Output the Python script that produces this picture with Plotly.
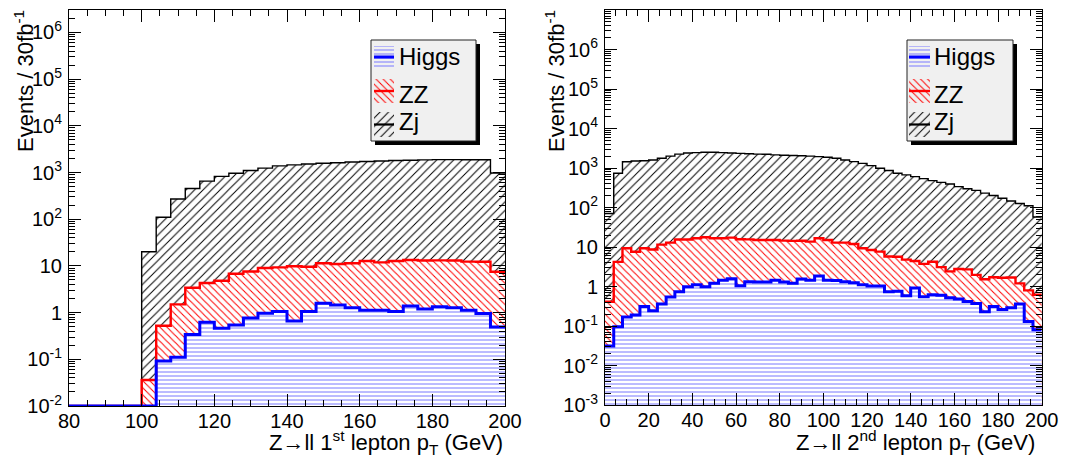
import numpy as np
import plotly.graph_objects as go

# ---------------- Z->ll 1st lepton pT, 4 GeV bins, 80-200 GeV ----------------
pt1_edges = np.arange(80, 201, 4)
pt1_higgs = [0, 0, 0, 0, 0, 0, 0.092, 0.11, 0.34, 0.62, 0.46, 0.54, 0.77, 0.97, 1.06,
             0.66, 1.05, 1.58, 1.45, 1.27, 1.13, 1.13, 1.05, 1.38, 1.2, 1.34, 1.27, 1.13,
             0.96, 0.49]
pt1_zz = [0, 0, 0, 0, 0, 0.036, 0.43, 1.39, 3.06, 3.68, 4.34, 6.26, 6.83, 8.03, 8.24,
          9.14, 8.55, 9.82, 9.55, 10.1, 11.6, 10.8, 11.7, 12.0, 11.9, 11.8, 11.8, 11.2,
          11.3, 7.0]
pt1_zj = [0, 0, 0, 0, 0, 20, 110, 270, 450, 650, 820, 960, 1100, 1230, 1380, 1450, 1510,
          1570, 1610, 1670, 1710, 1750, 1790, 1820, 1850, 1870, 1870, 1860, 1870, 970]

# ---------------- Z->ll 2nd lepton pT, 4 GeV bins, 0-200 GeV ----------------
pt2_edges = np.arange(0, 201, 4)
pt2_higgs = [0.031, 0.096, 0.17, 0.19, 0.31, 0.245, 0.36, 0.54, 0.74, 0.98, 1.1, 0.98,
             1.2, 1.45, 1.58, 1.05, 1.32, 1.3, 1.3, 1.45, 1.3, 1.2, 1.55, 1.45, 1.85, 1.45,
             1.42, 1.32, 1.25, 1.1, 1.03, 1.03, 0.74, 0.76, 0.58, 0.92, 0.55, 0.62, 0.6,
             0.52, 0.48, 0.42, 0.37, 0.23, 0.31, 0.26, 0.29, 0.36, 0.13, 0.08]
pt2_zz = [0.38, 4.1, 9.1, 7.4, 9.0, 8.4, 11.1, 12.4, 14.8, 14.5, 15.5, 16.6, 15.4, 15.2,
          15.7, 14.6, 14.3, 13.7, 13.7, 13.6, 13.2, 13.1, 12.8, 12.2, 14.8, 13.6, 11.5,
          11.6, 10.7, 8.2, 7.4, 6.6, 5.0, 4.9, 4.2, 3.5, 3.2, 3.6, 2.5, 1.9, 2.3, 2.3,
          1.6, 1.3, 1.4, 1.4, 1.4, 0.84, 0.67, 0.54]
pt2_zj = [70, 730, 1435, 1490, 1520, 1580, 1750, 1990, 2235, 2385, 2435, 2480, 2485, 2435,
          2385, 2335, 2285, 2235, 2205, 2135, 2085, 2055, 2035, 1985, 1925, 1855, 1745,
          1575, 1435, 1300, 1140, 975, 855, 730, 665, 600, 535, 475, 430, 390, 335, 295,
          270, 230, 200, 170, 145, 125, 110, 57]

LEGEND_LABELS = ["Higgs", "ZZ", "Zj"]
PT1_TITLE = "Z\u2192ll 1<sup>st</sup> lepton p<sub>T</sub> (GeV)"
PT2_TITLE = "Z\u2192ll 2<sup>nd</sup> lepton p<sub>T</sub> (GeV)"
Y_TITLE = "Events / 30fb<sup>-1</sup>"

FONT = "Liberation Sans, Arial, Helvetica, sans-serif"
W, H = 1070, 466

# per-process style: (line colour, line width, hatch shape, hatch size, hatch colour)
STYLES = {
    "Higgs": ("#0000ff", 3.0, "-", 4, "#7878ff"),
    "ZZ": ("#ff0000", 2.4, "\\", 5, "#ff0000"),
    "Zj": ("#000000", 1.4, "/", 6, "#000000"),
}


def pow10_text(e):
    if e == 0:
        return "1"
    if e == 1:
        return "10"
    return "10<sup>%d</sup>" % e


def log_minor(lo, hi):
    return [m * 10.0 ** e for e in range(lo, hi + 1) for m in range(2, 10)]


fig = go.Figure()


def add_stack(edges, higgs, zz, zj, xa, ya, floor):
    h = np.array(higgs, float)
    s_hz = h + np.array(zz, float)
    s_all = s_hz + np.array(zj, float)
    centers = (edges[:-1] + edges[1:]) / 2.0
    width = float(edges[1] - edges[0])
    # stacked histograms, drawn from the total down so each covers the ones beneath
    for name, vals in (("Zj", s_all), ("ZZ", s_hz), ("Higgs", h)):
        lc, lw, shp, sz, hc = STYLES[name]
        yb = [v if v > 0 else None for v in vals]
        fig.add_trace(go.Bar(
            x=centers, y=yb, width=width, xaxis=xa, yaxis=ya,
            marker=dict(color="white", line=dict(width=0),
                        pattern=dict(shape=shp, size=sz, solidity=1.0 / sz,
                                     fgcolor=hc, bgcolor="white", fillmode="replace")),
            hoverinfo="skip", showlegend=False))
    for name, vals in (("Zj", s_all), ("ZZ", s_hz), ("Higgs", h)):
        lc, lw, shp, sz, hc = STYLES[name]
        yl = np.where(vals > 0, vals, floor)
        fig.add_trace(go.Scatter(
            x=edges, y=list(yl) + [yl[-1]], mode="lines", line_shape="hv",
            line=dict(color=lc, width=lw), xaxis=xa, yaxis=ya,
            hoverinfo="skip", showlegend=False))


Y1_RANGE = (-2, 6.48)
Y2_RANGE = (-3, 7)
add_stack(pt1_edges, pt1_higgs, pt1_zz, pt1_zj, "x", "y", 10.0 ** Y1_RANGE[0])
add_stack(pt2_edges, pt2_higgs, pt2_zz, pt2_zj, "x2", "y2", 10.0 ** Y2_RANGE[0])

tickfont = dict(family=FONT, size=20, color="black")
common_x = dict(showgrid=False, zeroline=False, showline=True, linecolor="black",
                linewidth=1, mirror="allticks", ticks="inside", ticklen=12,
                tickwidth=1, tickcolor="black", tickfont=tickfont, dtick=20,
                ticklabelstandoff=-3, automargin=False,
                minor=dict(dtick=5, ticks="inside", ticklen=6, tickcolor="black",
                           showgrid=False))
common_y = dict(type="log", showgrid=False, zeroline=False, showline=True,
                linecolor="black", linewidth=1, mirror="allticks", ticks="inside",
                ticklen=12, tickwidth=1, tickcolor="black", tickfont=tickfont,
                tickmode="array", ticklabelstandoff=2, automargin=False)

e1 = list(range(-2, 7))
e2 = list(range(-3, 8))
fig.update_layout(
    width=W, height=H, margin=dict(l=0, r=0, t=0, b=0, autoexpand=False),
    paper_bgcolor="white", plot_bgcolor="rgba(0,0,0,0)",
    barmode="overlay", bargap=0, showlegend=False,
    xaxis=dict(common_x, domain=[69 / W, 505 / W], range=[80, 200], tick0=80, anchor="y"),
    yaxis=dict(common_y, domain=[(H - 406) / H, (H - 10) / H], range=list(Y1_RANGE),
               tickvals=[10.0 ** e for e in e1], ticktext=[pow10_text(e) for e in e1],
               minor=dict(tickmode="array", tickvals=log_minor(-2, 6), ticks="inside",
                          ticklen=6, tickcolor="black", showgrid=False),
               anchor="x"),
    xaxis2=dict(common_x, domain=[605 / W, 1041.7 / W], range=[0, 200], tick0=0, anchor="y2"),
    yaxis2=dict(common_y, domain=[(H - 405) / H, (H - 10) / H], range=list(Y2_RANGE),
                tickvals=[10.0 ** e for e in e2], ticktext=[pow10_text(e) for e in e2],
                minor=dict(tickmode="array", tickvals=log_minor(-3, 6), ticks="inside",
                           ticklen=6, tickcolor="black", showgrid=False),
                anchor="x2"),
    # overlay in pixel units for legends and axis titles
    xaxis3=dict(domain=[0, 1], range=[0, W], visible=False, fixedrange=True,
                automargin=False, anchor="y3"),
    yaxis3=dict(domain=[0, 1], range=[H, 0], visible=False, fixedrange=True,
                automargin=False, anchor="x3"),
)

annotations = []
shapes = []


def add_legend(left, top, right, bottom, sw_x0, sw_x1, text_x):
    shapes.append(dict(type="rect", xref="x3", yref="y3", x0=left + 4, x1=right + 4,
                       y0=top + 4, y1=bottom + 4, fillcolor="black",
                       line=dict(width=0), layer="below"))
    shapes.append(dict(type="rect", xref="x3", yref="y3", x0=left, x1=right,
                       y0=top, y1=bottom, fillcolor="#f0f0f0",
                       line=dict(color="#222222", width=1), layer="below"))
    rows = [(46, 68, 56.7), (79, 103, 94.7), (112, 137, 121.7)]
    for name, (y0, y1, ty) in zip(LEGEND_LABELS, rows):
        lc, lw, shp, sz, hc = STYLES[name]
        fig.add_trace(go.Scatter(
            x=[sw_x0, sw_x1, sw_x1, sw_x0, sw_x0], y=[y0, y0, y1, y1, y0],
            mode="none", fill="toself", fillcolor="rgba(0,0,0,0)",
            fillpattern=dict(shape=shp, size=sz, solidity=1.0 / sz, fgcolor=hc,
                             bgcolor="rgba(0,0,0,0)", fillmode="replace"),
            xaxis="x3", yaxis="y3", hoverinfo="skip", showlegend=False))
        ym = (y0 + y1) / 2.0
        fig.add_trace(go.Scatter(
            x=[sw_x0, sw_x1], y=[ym, ym], mode="lines",
            line=dict(color=lc, width=max(lw, 2.2)),
            xaxis="x3", yaxis="y3", hoverinfo="skip", showlegend=False))
        annotations.append(dict(xref="x3", yref="y3", x=text_x, y=ty, text=name,
                                xanchor="left", yanchor="middle", showarrow=False,
                                font=dict(family=FONT, size=24, color="black")))


add_legend(371, 40, 476, 141, 374, 394, 397)
add_legend(907, 40, 1013, 141, 909, 930, 932)

title_font = dict(family=FONT, size=22, color="black")
annotations += [
    dict(xref="x3", yref="y3", x=505, y=442, text=PT1_TITLE, xanchor="right",
         yanchor="middle", showarrow=False, font=title_font),
    dict(xref="x3", yref="y3", x=1037, y=442, text=PT2_TITLE, xanchor="right",
         yanchor="middle", showarrow=False, font=title_font),
    dict(xref="x3", yref="y3", x=24, y=8, text=Y_TITLE, textangle=-90,
         xanchor="center", yanchor="top", showarrow=False, font=title_font),
    dict(xref="x3", yref="y3", x=555, y=8, text=Y_TITLE, textangle=-90,
         xanchor="center", yanchor="top", showarrow=False, font=title_font),
]

fig.update_layout(annotations=annotations, shapes=shapes)
fig.write_html("out.html")
